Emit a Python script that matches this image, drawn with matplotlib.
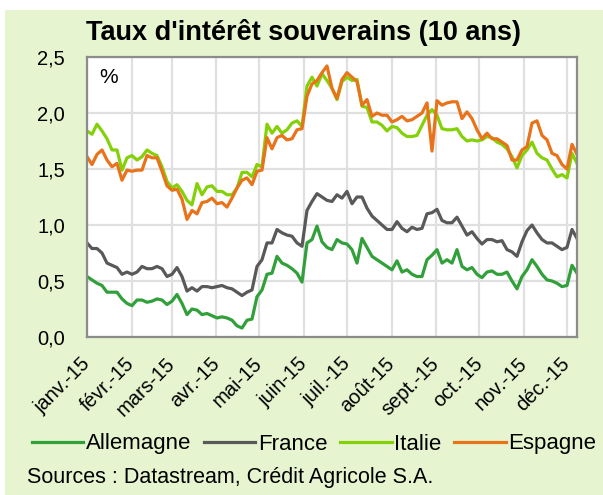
import matplotlib
matplotlib.use("Agg")
import matplotlib.pyplot as plt
from matplotlib.patches import Rectangle
from matplotlib.ticker import FuncFormatter
import pandas as pd

plt.rcParams['font.family'] = ['Liberation Sans', 'DejaVu Sans']

# dates: ~every 3.5 days from 1 Jan to 8 Dec 2015
dates = pd.date_range("2015-01-01", "2015-12-08", periods=99)

allemagne = [0.54, 0.51, 0.48, 0.46, 0.40, 0.40, 0.40, 0.34, 0.30, 0.28,
             0.33, 0.33, 0.31, 0.32, 0.34, 0.33, 0.29, 0.32, 0.38, 0.30,
             0.20, 0.25, 0.24, 0.20, 0.21, 0.19, 0.17, 0.18, 0.17, 0.15,
             0.10, 0.08, 0.15, 0.16, 0.36, 0.42, 0.56, 0.57, 0.72, 0.66,
             0.64, 0.61, 0.57, 0.49, 0.84, 0.87, 0.99, 0.85, 0.80, 0.78,
             0.87,
             0.84, 0.83, 0.78, 0.66, 0.88, 0.80, 0.72, 0.69, 0.66, 0.63,
             0.60, 0.68, 0.58, 0.60, 0.56, 0.54, 0.54, 0.69, 0.73, 0.78,
             0.66, 0.69, 0.66, 0.78, 0.63, 0.60, 0.62, 0.56, 0.53, 0.58,
             0.59, 0.56, 0.56, 0.58, 0.50, 0.43, 0.54, 0.60, 0.69, 0.63,
             0.56, 0.51, 0.50, 0.48, 0.45, 0.46, 0.64, 0.57]

france = [0.84, 0.79, 0.79, 0.75, 0.66, 0.64, 0.62, 0.56, 0.58, 0.56,
          0.58, 0.63, 0.61, 0.61, 0.63, 0.61, 0.54, 0.56, 0.62, 0.54,
          0.41, 0.44, 0.41, 0.45, 0.45, 0.44, 0.45, 0.46, 0.44, 0.43,
          0.40, 0.37, 0.40, 0.42, 0.63, 0.69, 0.84, 0.84, 0.96, 0.93,
          0.91, 0.90, 0.84, 0.81, 1.13, 1.21, 1.28, 1.25, 1.22, 1.21,
          1.27,
          1.24, 1.30, 1.19, 1.25, 1.25, 1.15, 1.08, 1.04, 1.00, 0.96,
          0.96, 1.03, 0.97, 0.94, 0.98, 0.96, 0.97, 1.10, 1.11, 1.14,
          1.04, 1.02, 1.02, 1.07, 0.99, 0.91, 0.94, 0.88, 0.83, 0.87,
          0.87, 0.85, 0.86, 0.78, 0.76, 0.72, 0.85, 0.95, 1.00, 0.93,
          0.87, 0.84, 0.84, 0.81, 0.78, 0.80, 0.96, 0.88]

italie = [1.84, 1.81, 1.90, 1.84, 1.77, 1.67, 1.67, 1.49, 1.60, 1.62,
          1.58, 1.61, 1.67, 1.64, 1.62, 1.52, 1.39, 1.33, 1.36, 1.30,
          1.22, 1.18, 1.37, 1.27, 1.34, 1.35, 1.30, 1.30, 1.27, 1.27,
          1.33, 1.47, 1.47, 1.43, 1.54, 1.52, 1.90, 1.82, 1.88, 1.82,
          1.85, 1.91, 1.93, 1.88, 2.24, 2.32, 2.24, 2.35, 2.29, 2.22,
          2.12,
          2.28, 2.32, 2.29, 2.30, 2.06, 2.05, 1.92, 1.92, 1.89, 1.84,
          1.88, 1.87, 1.82, 1.79, 1.79, 1.80, 1.89, 1.98, 2.03, 1.98,
          1.86, 1.85, 1.85, 1.86, 1.79, 1.75, 1.76, 1.75, 1.76, 1.79,
          1.78, 1.74, 1.72, 1.68, 1.61, 1.51, 1.62, 1.67, 1.74, 1.64,
          1.60, 1.58, 1.50, 1.43, 1.45, 1.42, 1.64, 1.55]

espagne = [1.61, 1.54, 1.63, 1.67, 1.58, 1.52, 1.55, 1.40, 1.49, 1.48,
           1.49, 1.49, 1.62, 1.60, 1.60, 1.48, 1.35, 1.31, 1.32, 1.23,
           1.05, 1.13, 1.10, 1.20, 1.21, 1.24, 1.19, 1.20, 1.16, 1.24,
           1.33, 1.40, 1.42, 1.36, 1.48, 1.49, 1.78, 1.68, 1.78, 1.80,
           1.76, 1.77, 1.85, 1.86, 2.15, 2.26, 2.29, 2.36, 2.42, 2.22,
           2.13,
           2.30, 2.36, 2.32, 2.28, 2.07, 2.12, 1.97, 2.00, 1.98, 1.98,
           1.92, 1.94, 1.97, 1.93, 1.94, 1.97, 2.00, 2.09, 1.66, 2.11,
           2.07, 2.09, 2.10, 2.10, 1.95, 2.01, 1.95, 1.85, 1.77, 1.82,
           1.77, 1.77, 1.74, 1.71, 1.58, 1.58, 1.67, 1.70, 1.91, 1.93,
           1.80, 1.76, 1.64, 1.62, 1.54, 1.50, 1.72, 1.63]

series_names = ["Allemagne", "France", "Italie", "Espagne"]
colors = ["#31A03A", "#595959", "#84D10A", "#E8731A"]

month_labels = ["janv.-15", "févr.-15", "mars-15", "avr.-15", "mai-15", "juin-15",
                "juil.-15", "août-15", "sept.-15", "oct.-15", "nov.-15", "déc.-15"]
month_starts = pd.date_range("2015-01-01", "2015-12-01", freq="MS")

fig = plt.figure(figsize=(6.03, 4.95), dpi=100)
fig.patch.set_facecolor("white")
# light green panel behind everything
bg = fig.add_axes([5 / 603, 0, 598 / 603, 485 / 495], zorder=0)
bg.add_patch(Rectangle((0, 0), 1, 1, facecolor="#E6F5CF", edgecolor="none"))
bg.set_axis_off()

ax = fig.add_axes([87 / 603, 158 / 495, 490 / 603, 280 / 495], zorder=2)
ax.set_facecolor("white")

for name, vals, c in zip(series_names, [allemagne, france, italie, espagne], colors):
    ax.plot(dates, vals, color=c, lw=2.3, label=name, solid_joinstyle="round")

ax.set_xlim(pd.Timestamp("2015-01-01"), pd.Timestamp("2015-12-08"))
ax.set_ylim(0, 2.5)
ax.set_yticks([0, 0.5, 1.0, 1.5, 2.0, 2.5])
ax.yaxis.set_major_formatter(FuncFormatter(lambda v, p: f"{v:.1f}".replace(".", ",")))
ax.set_xticks(month_starts)
ax.set_xticklabels(month_labels, rotation=45, ha="right", va="center",
                   rotation_mode="anchor")
ax.tick_params(axis="both", length=0, labelsize=14.5)
ax.tick_params(axis="x", pad=17)
ax.tick_params(axis="y", pad=16)
ax.grid(True, color="#E0E0E0", lw=1.6)
ax.set_axisbelow(True)
for s in ax.spines.values():
    s.set_color("#8C8C8C")
    s.set_linewidth(1.6)

ax.text(0.025, 0.96, "%", transform=ax.transAxes, fontsize=15, va="top", ha="left")

fig.text(304 / 603, 1 - 32 / 495, "Taux d'intérêt souverains (10 ans)",
         fontsize=19.5, fontweight="bold", ha="center", va="center")

fig.legend(loc="center", bbox_to_anchor=(314 / 603, 1 - 444 / 495), ncol=4,
           frameon=False, fontsize=16, handlelength=2.3, handletextpad=0.1,
           columnspacing=0.6, borderpad=0.1)

fig.text(27 / 603, 1 - 478 / 495, "Sources : Datastream, Crédit Agricole S.A.",
         fontsize=15.5, ha="left", va="center")

fig.savefig("out.png", dpi=100)
